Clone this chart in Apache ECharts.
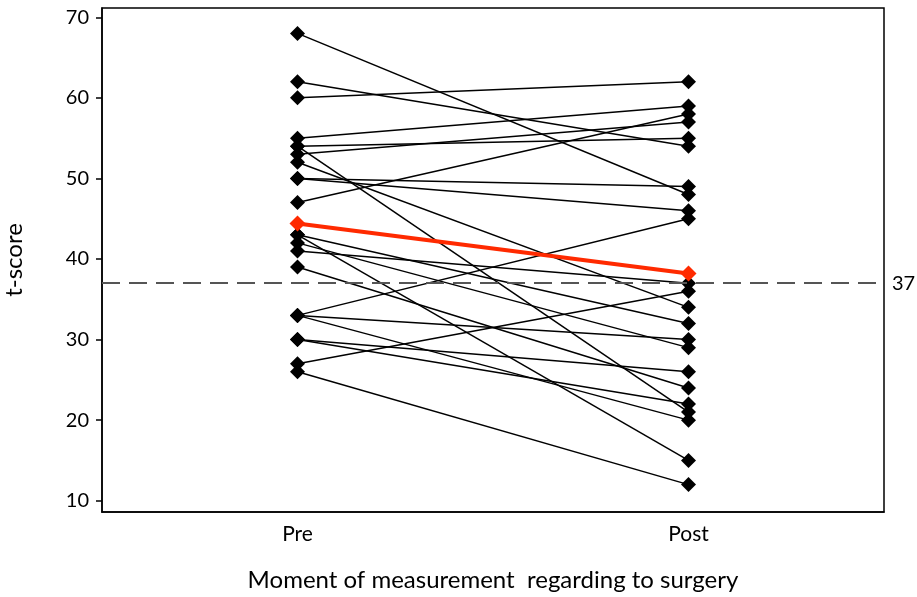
<!DOCTYPE html>
<html><head><meta charset="utf-8">
<script src="https://cdn.jsdelivr.net/npm/echarts@6/dist/echarts.min.js"></script>
<style>html,body{margin:0;padding:0;background:#fff}#c{width:917px;height:597px}</style>
</head><body><div id="c"></div>
<script>
const categories = ['Pre', 'Post'];
const preValues  = [68,62,60,55,54,54,53,52,50,50,47,43,43,42,41,39,33,33,33,30,30,27,26];
const postValues = [48,54,62,59,55,21,57,34,49,46,58,15,32,29,37,24,45,30,20,26,22,36,12];
const meanValues = [44.4, 38.2];
const yTicks = [10,20,30,40,50,60,70];
const refValue = 37;

const FONT = 'Lato, "Open Sans", sans-serif';
const series = [];
preValues.forEach((p, i) => {
  series.push({
    type: 'line', data: [p, postValues[i]], symbol: 'diamond', symbolSize: 15,
    lineStyle: {color: '#000', width: 1.5}, itemStyle: {color: '#000'},
    emphasis: {disabled: true}, silent: true, z: 2
  });
});
series.push({
  type: 'line', data: meanValues, symbol: 'diamond', symbolSize: 16,
  lineStyle: {color: '#ff2a00', width: 4}, itemStyle: {color: '#ff2a00'},
  silent: true, z: 5,
  markLine: {
    silent: true, symbol: ['none','none'],
    lineStyle: {color: '#555', type: [18, 9], width: 2},
    label: {show: true, position: 'end', formatter: String(refValue), color: '#000', fontSize: 20, fontFamily: FONT, distance: 8},
    data: [{yAxis: refValue}]
  }
});

const chart = echarts.init(document.getElementById('c'));
chart.setOption({
  animation: false,
  grid: {left: 102, right: 33, top: 8, bottom: 85, outerBoundsMode: 'none', containLabel: false,
         show: true, borderColor: '#000', borderWidth: 1.5},
  xAxis: {
    type: 'category', data: categories, boundaryGap: true,
    axisLine: {lineStyle: {color: '#000', width: 1.5}},
    axisTick: {alignWithLabel: true, length: 5, lineStyle: {color: '#000', width: 1.5}},
    axisLabel: {color: '#000', fontSize: 21, fontFamily: FONT, margin: 12},
    name: 'Moment of measurement  regarding to surgery', nameLocation: 'middle', nameGap: 56,
    nameTextStyle: {color: '#000', fontSize: 24, fontFamily: FONT}
  },
  yAxis: {
    type: 'value', min: 8.6, max: 71.15,
    splitLine: {show: false},
    axisLine: {show: true, lineStyle: {color: '#000', width: 1.5}},
    axisTick: {show: true, length: 6, customValues: yTicks, lineStyle: {color: '#000', width: 1.5}},
    axisLabel: {customValues: yTicks, color: '#000', fontSize: 20, fontFamily: FONT, margin: 13},
    name: 't-score', nameLocation: 'middle', nameGap: 76, nameRotate: 90,
    nameTextStyle: {color: '#000', fontSize: 24, fontFamily: FONT}
  },
  series: series
});
</script></body></html>
